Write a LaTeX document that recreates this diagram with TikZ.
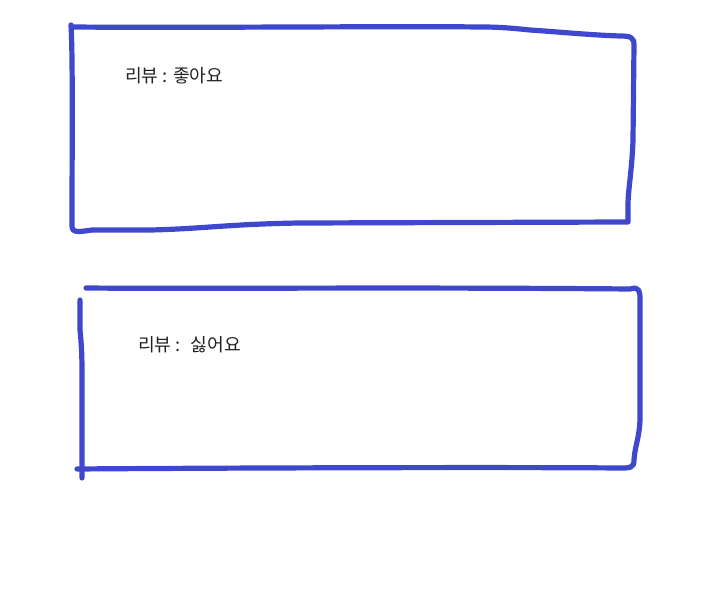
\documentclass[tikz,border=0pt]{standalone}
\usepackage{fontspec}
\newfontfamily\kr{Noto Sans CJK KR}
\definecolor{pen}{HTML}{3F48CC}
\definecolor{ink}{HTML}{222222}
\begin{document}
\begin{tikzpicture}[x=1pt,y=-1pt,
  stroke/.style={draw=pen,line width=5.2pt,line cap=round,line join=round},
  lbl/.style={anchor=west,inner sep=0pt,text=ink,font=\kr\fontsize{18.2}{20}\selectfont}]
\useasboundingbox (0,0) rectangle (710,599);
% box 1
\draw[stroke] (71,25) .. controls (73,60) and (72,150) .. (72,226)
  .. controls (72,233) and (78,232) .. (92,230)
  -- (150,230) .. controls (200,229) and (230,224) .. (300,223)
  -- (628,222) -- (628,205) .. controls (628,190) and (632,170) .. (633,140)
  -- (634,45) .. controls (634,37) and (630,36) .. (620,36)
  .. controls (590,35) and (560,32) .. (530,30)
  .. controls (510,28) and (500,27) .. (480,27)
  .. controls (400,26) and (200,28) .. (71,27);
% box 2
\draw[stroke] (86,288) .. controls (200,289) and (400,287) .. (630,289)
  .. controls (640,286) and (640,292) .. (640,300)
  -- (640,420) .. controls (639,440) and (635,445) .. (634,460)
  .. controls (634,468) and (630,468) .. (620,468)
  .. controls (500,467) and (200,468) .. (77,469);
\draw[stroke] (80,300) -- (80,330) .. controls (82,350) and (82,360) .. (82,380) -- (82,478);
\node[lbl] (t1) at (125,76) {리뷰 : 좋아요};
\node[lbl] (t2) at (138,345) {리뷰 :\hspace{0.55em}싫어요};
\end{tikzpicture}
\end{document}
